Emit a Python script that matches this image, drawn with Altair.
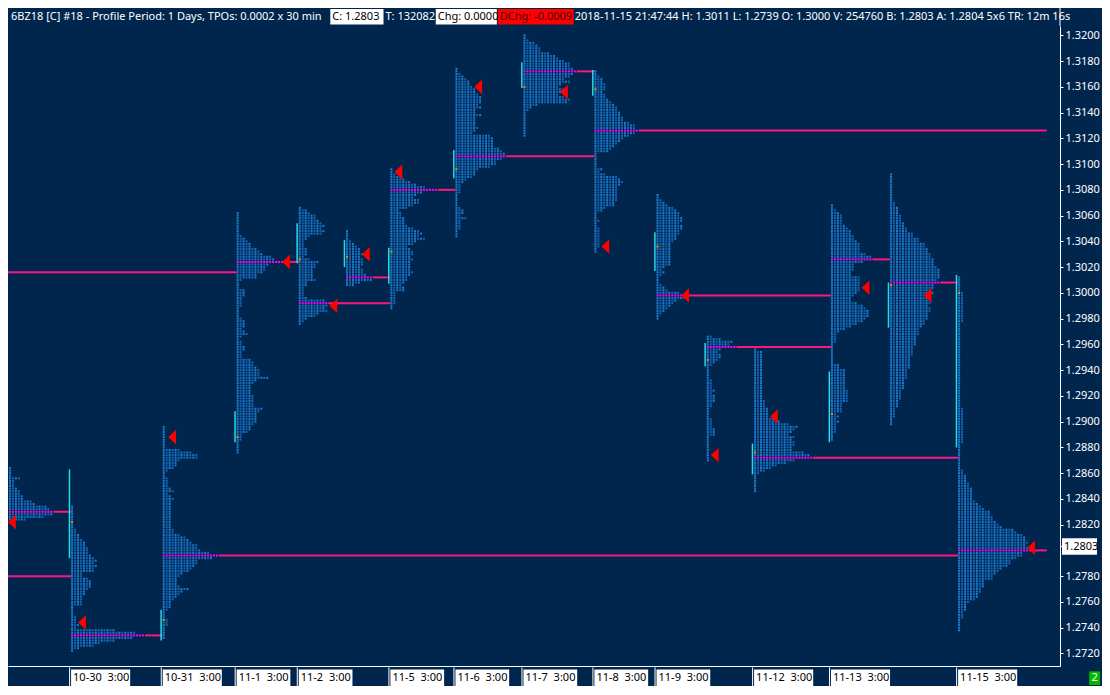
import altair as alt
import pandas as pd

FONT = "Noto Sans"
BG = "#00264d"
DARK_BLUE = "#1562b5"
LIGHT_BLUE = "#1b7ccb"
POC_DOT = "#ff00ff"
NAKED_POC = "#ff1480"
IB_CYAN = "#22dcec"
OPEN_ORANGE = "#ff8000"
CLOSE_RED = "#ff0000"
TICK = 0.0002

# ---------------- data ----------------
profile_dates = ["10-29", "10-30", "10-31", "11-1", "11-2", "11-4", "11-5", "11-6",
                 "11-7", "11-8", "11-9", "11-11", "11-12", "11-13", "11-14", "11-15"]
profile_cols = [0, 21, 52, 77, 98, 114, 129, 151, 174, 198, 219, 236, 252, 278, 298, 321]
profile_tops = [1.2864, 1.2834, 1.2896, 1.3062, 1.3066, 1.3048, 1.3096, 1.3174,
                1.3200, 1.3172, 1.3076, 1.2966, 1.2956, 1.3068, 1.3092, 1.3012]
profile_poc_rows = [17, 50, 50, 19, 37, 18, 8, 34, 14, 23, 39, 4, 42, 21, 42, 106]

tpo_1029 = [1, 1, 1, 1, 4, 2, 2, 2, 3, 4, 4, 5, 5, 8, 9, 13, 14, 15, 15, 12, 6]
tpo_1030 = [1, 1, 1, 1, 1, 1, 1, 1, 1, 2, 2, 3, 3, 4, 5, 5, 6, 6, 6, 7, 8, 9, 8, 9, 8, 8, 4, 4, 6, 7,
            7, 7, 6, 5, 5, 4, 4, 4, 4, 1, 1, 1, 1, 2, 2, 2, 3, 2, 15, 22, 25, 21, 15, 10, 8, 3, 1]
tpo_1031 = [1, 1, 1, 1, 1, 1, 1, 1, 1, 6, 10, 12,
            12, 6, 5, 5, 4, 2, 1, 1, 2, 2, 2, 2, 3, 4, 2, 3, 4, 3, 3, 3,
            3, 3, 3, 3, 3, 3, 3, 3, 4, 4, 6, 8, 9, 10, 12, 12, 13, 16, 19, 17,
            12, 12, 11, 10, 9, 7, 6, 5, 5, 5, 6, 9, 7, 6, 5, 4, 3, 3, 3, 2,
            1, 1, 1, 2, 2, 2, 1, 1, 1, 1, 1]
tpo_1101 = [1, 1, 1, 1, 1, 1, 1, 1, 1, 2, 3, 4, 5, 5, 7, 8, 9, 12, 13, 15,
            11, 10, 10, 9, 7, 7, 2, 1, 1, 1, 3, 3, 3, 2, 2, 2, 2, 1, 1, 1,
            1, 2, 3, 3, 3, 2, 3, 4, 2, 1, 2, 2, 3, 3, 2, 2, 2, 5, 6, 6,
            7, 8, 8, 8, 11, 7, 6, 5, 5, 5, 5, 6, 6, 6, 6, 6, 9, 8, 7, 7,
            7, 7, 6, 5, 5, 4, 2, 2, 2, 1, 1, 1, 1, 1]
tpo_1102 = [1, 3, 4, 6, 6, 7, 8, 9, 8, 9, 8, 4, 3, 2, 2, 2, 3, 3, 3, 2, 4, 7, 6, 6, 5, 5, 5, 5, 6, 3,
            3, 2, 2, 2, 2, 3, 9, 10, 10, 9, 10, 7, 6, 3, 2, 1]
tpo_1104 = [1, 1, 1, 1, 2, 3, 4, 5, 5, 6, 5, 6, 6, 6, 5, 6, 6, 7, 9, 9, 5, 3]
tpo_1105 = [1, 1, 2, 4, 5, 7, 9, 12, 16, 11, 9, 8, 10, 10, 8, 6, 3, 4, 4, 5, 5, 5, 6, 8, 10, 11, 10,
            12, 9, 8, 6, 7, 8, 8, 7, 8, 7, 7, 7, 7, 8, 7, 6, 6, 5, 4, 5, 5, 2, 2, 2, 2, 2, 1, 1]
tpo_1106 = [1, 1, 2, 3, 4, 5, 5, 6, 7, 7, 8, 9, 9, 9, 8, 9, 7, 7, 9, 7, 7, 7, 7, 8, 7, 6, 12, 13, 13,
            13, 13, 15, 16, 17, 17, 16, 14, 14, 12, 8, 7, 7, 6, 4, 3, 2, 2, 2, 2, 1, 1, 1, 1, 1, 2, 3,
            3, 2, 4, 2, 2, 2, 2, 1, 1, 1]
tpo_1107 = [1, 1, 2, 4, 5, 6, 6, 9, 11, 12, 14, 16, 16, 17, 18, 17, 16, 14, 16, 13, 12, 14, 13, 12,
            14, 16, 15, 5, 3, 2, 1, 1, 1, 1, 1, 1, 1, 1, 1, 1]
tpo_1108 = [1, 1, 2, 3, 3, 4, 4, 4, 3, 4, 4, 5, 6, 7, 8, 8, 9, 9, 10, 10, 12, 14, 14, 15, 14, 12, 10,
            9, 8, 7, 6, 5, 1, 1, 1, 1, 1, 1, 3, 2, 4, 8, 9, 10, 9, 8, 8, 8, 8, 8, 8, 7, 7, 4, 3, 1,
            1, 1, 2, 1, 1, 2, 2, 2, 2, 2, 2, 2, 2, 1, 1]
tpo_1109 = [1, 1, 2, 3, 4, 6, 7, 8, 8, 9, 9, 8, 9, 9, 8, 8, 7, 7, 6, 5, 5, 5, 5, 5, 5, 5, 5, 5, 3, 2,
            3, 2, 1, 1, 1, 2, 3, 4, 8, 9, 10, 7, 6, 5, 4, 3, 2, 1, 1]
tpo_1111 = [2, 5, 9, 8, 10, 5, 4, 5, 5, 4, 3, 2, 1, 1, 1, 1, 1, 2, 2, 2, 2, 3, 2, 3, 3, 3, 2, 2, 1, 1,
            1, 1, 2, 2, 2, 2, 3, 3, 3, 1, 1, 1, 1, 1, 1, 1, 1, 1, 1]
tpo_1112 = [1, 3, 3, 3, 3, 3, 3, 3, 3, 3, 3, 3, 3, 3, 3, 3, 3, 3, 3, 3, 4, 4, 4, 5, 5, 5, 5, 7, 9, 12,
            15, 14, 13, 12, 14, 13, 14, 14, 13, 13, 17, 19, 20, 14, 11, 8, 6, 4, 2, 1, 1, 1, 1, 1, 1, 1]
tpo_1113 = [1, 1, 2, 3, 4, 4, 4, 4, 5, 6, 7, 7, 8, 8, 9, 10, 10, 10, 10, 12, 14, 14,
            11, 8, 8, 8, 7, 7, 10, 10, 10, 10, 10, 10, 9, 8, 7, 7, 9, 11, 12, 13, 13, 13, 12, 11, 9,
            7, 5, 3, 2,
            2, 2, 2, 1, 1, 1, 1, 1, 1, 1, 1, 3, 3, 5, 5, 5, 5, 5, 5, 5, 5, 6, 6, 6, 6, 6, 4, 4, 4, 4,
            2, 3, 2, 3, 2, 2, 2, 2, 1, 1, 1]
tpo_1114 = [1, 1, 1, 1, 1, 1, 1, 1, 1, 1, 1, 2, 2, 3, 3, 3, 4, 4, 4, 5, 5, 6, 6, 8, 8, 10, 10, 12, 12,
            13, 13, 14, 14, 15, 15, 15, 16, 17, 17, 17, 17, 16, 17, 15, 15, 14, 15, 14, 14, 14, 14,
            13, 14, 14, 13, 13, 13, 12, 12, 11, 10, 10, 10, 9, 9, 9, 9, 8, 8, 8, 8, 7, 7, 7, 7, 7,
            6, 6, 6, 6, 5, 5, 5, 5, 4, 4, 4, 4, 3, 3, 3, 2, 2, 2, 2, 1, 1, 1]
tpo_1115 = [1, 1, 1, 1, 1, 1, 2, 2, 2, 2, 2, 2, 2, 2, 2, 2, 2, 2,
            1, 1, 1, 1, 1, 1, 1, 1, 1, 1, 1, 1, 1, 1, 1, 1, 1, 1, 1, 1, 1, 1, 1, 1, 1, 1, 1, 1, 1, 1,
            1, 1, 1, 2, 2, 2, 2, 2, 2, 2, 2, 2, 2, 2, 2, 2, 2, 1, 1, 1, 1, 1, 1, 1, 1, 1, 1,
            2, 2, 3, 3, 3, 4, 4, 5, 5, 5, 5, 5, 6, 7, 8, 9, 11, 11, 12, 12, 13, 14, 15, 19, 20, 22,
            23, 23, 24, 23, 24, 25, 22, 22, 20, 18, 18, 17, 15, 14, 13, 12, 12, 9, 9, 9, 8, 8, 7, 7,
            6, 4, 3, 3, 3, 2, 2, 2, 1, 1, 1, 1, 1]
profile_tpos = [tpo_1029, tpo_1030, tpo_1031, tpo_1101, tpo_1102, tpo_1104, tpo_1105, tpo_1106,
                tpo_1107, tpo_1108, tpo_1109, tpo_1111, tpo_1112, tpo_1113, tpo_1114, tpo_1115]

open_prices = [None, 1.2822, 1.2746, 1.2888, 1.3026, 1.3028, 1.3032, 1.3096,
               1.3160, 1.3158, 1.3036, 1.2948, 1.2876, 1.2906, 1.3006, 1.3000]
ib_high = [None, 1.2863, 1.2754, 1.2908, 1.3054, 1.3041, 1.3035, 1.3111,
           1.3179, 1.3173, 1.3047, 1.2961, 1.2883, 1.2939, 1.3008, 1.3014]
ib_low = [None, 1.2794, 1.2730, 1.2884, 1.3023, 1.3020, 1.3007, 1.3089,
          1.3159, 1.3153, 1.3017, 1.2943, 1.2859, 1.2884, 1.2973, 1.2880]
close_prices = [1.2822, 1.2744, 1.2888, 1.3024, 1.2990, 1.3030, 1.3094, 1.3160,
                1.3156, 1.3036, 1.2998, 1.2874, 1.2904, 1.3004, 1.2998, 1.2802]
close_cols = [1.0, 24.7, 55.2, 93.7, 109.7, 120.7, 131.7, 158.7,
              187.7, 201.7, 228.7, 238.7, 258.7, 289.7, 310.7, 345.7]
poc_end_cols = [21, 52, 321, 98, 129, 129, 151, 198, 198, 351, 278, 278, 321, 298, 321, 351]
older_poc_prices = [1.2780, 1.3016]
older_poc_end_cols = [21, 77]

label_dates = ["10-30", "10-31", "11-1", "11-2", "11-5", "11-6", "11-7", "11-8",
               "11-9", "11-12", "11-13", "11-15"]
label_time = "3:00"
y_tick_values = [1.2720, 1.2740, 1.2760, 1.2780, 1.2820, 1.2840, 1.2860, 1.2880,
                 1.2900, 1.2920, 1.2940, 1.2960, 1.2980, 1.3000, 1.3020, 1.3040,
                 1.3060, 1.3080, 1.3100, 1.3120, 1.3140, 1.3160, 1.3180, 1.3200]
last_price = 1.2803

header_title = "6BZ18 [C]  #18 - Profile Period: 1 Days, TPOs: 0.0002 x 30 min"
header_close = "C: 1.2803"
header_trades = "T: 132082"
header_chg = "Chg: 0.0000"
header_dchg = "DChg: -0.0009"
header_info = ("2018-11-15 21:47:44 H: 1.3011 L: 1.2739 O: 1.3000 V: 254760 "
               "B: 1.2803 A: 1.2804 5x6 TR: 12m 16s")

# ---------------- layout (fit the 1110x695 design into the page body) ----------------
TOTAL_W, TOTAL_H = 1094, 678          # page minus the 8px body margin
SX, SY = TOTAL_W / 1110, TOTAL_H / 695
PAD_TOP = 18
W = round(1067 * SX)                  # plot area width (axis line position)
H = round(675 * SY) - PAD_TOP         # plot area height (bottom line position)
PAD_RIGHT = TOTAL_W - W
PAD_BOTTOM = TOTAL_H - PAD_TOP - H


def rx(x):          # design x (px) -> chart x relative to plot left
    return x * SX


def ry(y):          # design y (px) -> chart y relative to plot top
    return y * SY - PAD_TOP


# price <-> design pixel: 1.3200 at y=28, 0.002 per 26.4 px
def price_at(y):
    return 1.3200 - (y - 28) / 13200


x_max_design = W / SX
y_top_design = PAD_TOP / SY
y_bot_design = (PAD_TOP + H) / SY
xs = alt.Scale(domain=[-1 / 3, (x_max_design - 1) / 3], nice=False, zero=False)
ys = alt.Scale(domain=[price_at(y_bot_design), price_at(y_top_design)], nice=False, zero=False)

# ---------------- tables ----------------
half = 0.00008
blocks = []
pocs = []
for k, counts in enumerate(profile_tpos):
    c0 = profile_cols[k]
    for r, n in enumerate(counts):
        p = round(profile_tops[k] - r * TICK, 4)
        for j in range(n):
            if r == profile_poc_rows[k]:
                col = POC_DOT
            else:
                col = LIGHT_BLUE if j % 2 == 0 else DARK_BLUE
            blocks.append({"x": c0 + j, "x2": c0 + j + 0.667, "y": p + half, "y2": p - half, "c": col})
    pp = round(profile_tops[k] - profile_poc_rows[k] * TICK, 4)
    pocs.append({"x": c0 + counts[profile_poc_rows[k]], "x2": poc_end_cols[k], "y": pp})
for p, e in zip(older_poc_prices, older_poc_end_cols):
    pocs.append({"x": -0.34, "x2": e, "y": p})
blocks_df = pd.DataFrame(blocks)
pocs_df = pd.DataFrame(pocs)

ib_df = pd.DataFrame([{"x": profile_cols[k] - 0.55, "y": ib_high[k], "y2": ib_low[k]}
                      for k in range(len(profile_cols)) if ib_high[k] is not None])
open_df = pd.DataFrame([{"x": profile_cols[k], "x2": profile_cols[k] + 0.667,
                         "y": open_prices[k] + half, "y2": open_prices[k] - half}
                        for k in range(len(profile_cols)) if open_prices[k] is not None])
close_df = pd.DataFrame({"x": close_cols, "y": close_prices})

lab = []
for d in label_dates:
    c = profile_cols[profile_dates.index(d)]
    t = d + "\u00a0\u00a0" + label_time
    lab.append({"x": c, "x2": c + 5.45 * len(t) / 3, "sep": c - 0.5, "t": t})
lab_df = pd.DataFrame(lab)

XAX = alt.Axis(labels=False, ticks=False, grid=False, domainColor="#ffffff",
               domainWidth=1, title=None)
YAX = alt.Axis(orient="right", values=y_tick_values, format=".4f", grid=False,
               labelColor="#ffffff", labelFont=FONT, labelFontSize=11,
               tickColor="#ffffff", tickSize=3, domainColor="#ffffff", domainWidth=1,
               labelPadding=2, labelOverlap=False, title=None)


def X(f):
    return alt.X(f, scale=xs, axis=XAX)


def Y(f):
    return alt.Y(f, scale=ys, axis=YAX)


base_blocks = alt.Chart(blocks_df).mark_rect(strokeWidth=0).encode(
    x=X("x:Q"), x2="x2:Q", y=Y("y:Q"), y2="y2:Q",
    color=alt.Color("c:N", scale=None),
)

poc_lines = alt.Chart(pocs_df).mark_rule(color=NAKED_POC, strokeWidth=2).encode(
    x=X("x:Q"), x2="x2:Q", y=Y("y:Q"))

ib_lines = alt.Chart(ib_df).mark_rule(color=IB_CYAN, strokeWidth=1.5).encode(
    x=X("x:Q"), y=Y("y:Q"), y2="y2:Q")

opens = alt.Chart(open_df).mark_rect(color=OPEN_ORANGE).encode(
    x=X("x:Q"), x2="x2:Q", y=Y("y:Q"), y2="y2:Q")

closes = alt.Chart(close_df).mark_point(
    shape="M0.53,-1L-0.53,0L0.53,1Z", filled=True, size=215, color=CLOSE_RED,
    opacity=1, strokeWidth=0).encode(x=X("x:Q"), y=Y("y:Q"))

seps = alt.Chart(lab_df).mark_rule(color="#ffffff", strokeWidth=1).encode(
    x=X("sep:Q"), y=alt.value(ry(676)), y2=alt.value(ry(695)))
lab_boxes = alt.Chart(lab_df).mark_rect(color="#ffffff").encode(
    x=X("x:Q"), x2="x2:Q", y=alt.value(ry(678)), y2=alt.value(ry(695)))
lab_text = alt.Chart(lab_df).mark_text(
    align="left", baseline="middle", dx=2, font=FONT, fontSize=11, color="#000000").encode(
    x=X("x:Q"), y=alt.value(ry(687)), text="t:N")

one = pd.DataFrame({"v": [0]})


def hbox(x1, x2, fill):
    return alt.Chart(one).mark_rect(color=fill).encode(
        x=alt.value(rx(x1)), x2=alt.value(rx(x2)), y=alt.value(ry(1)), y2=alt.value(ry(17)))


def htext(x, t, col):
    return alt.Chart(pd.DataFrame({"t": [t]})).mark_text(
        align="left", baseline="middle", font=FONT, fontSize=11, color=col).encode(
        x=alt.value(rx(x)), y=alt.value(ry(9)), text="t:N")


header = [
    htext(3, header_title, "#ffffff"),
    hbox(327, 381, "#ffffff"), htext(329, header_close, "#000000"),
    htext(383, header_trades, "#ffffff"),
    hbox(434, 496, "#ffffff"), htext(436, header_chg, "#000000"),
    hbox(497, 574, "#ff0000"), htext(499, header_dchg, "#4a0000"),
    htext(575, header_info, "#ffffff"),
]

header_rule = alt.Chart(one).mark_rule(color="#ffffff").encode(
    x=alt.value(W), y=alt.value(-PAD_TOP), y2=alt.value(0))

lp_df = pd.DataFrame({"y": [last_price + 0.00064], "y2": [last_price - 0.00064],
                      "p": [last_price], "t": [f"{last_price:.4f}"]})
lp_box = alt.Chart(lp_df).mark_rect(color="#ffffff").encode(
    x=alt.value(W + 2), x2=alt.value(W + 37), y=Y("y:Q"), y2="y2:Q")
lp_tick = alt.Chart(lp_df).mark_rule(color="#ffffff").encode(
    x=alt.value(W), x2=alt.value(W + 3), y=Y("p:Q"))
lp_text = alt.Chart(lp_df).mark_text(
    align="left", baseline="middle", font=FONT, fontSize=11, color="#000000").encode(
    x=alt.value(W + 4), y=Y("p:Q"), text="t:N")

badge = alt.Chart(one).mark_rect(color="#00b800").encode(
    x=alt.value(rx(1097)), x2=alt.value(rx(1108)), y=alt.value(ry(680)), y2=alt.value(ry(694)))
badge_text = alt.Chart(pd.DataFrame({"t": ["2"]})).mark_text(
    align="center", baseline="middle", font=FONT, fontSize=11, color="#ffffff").encode(
    x=alt.value(rx(1102.5)), y=alt.value(ry(687)), text="t:N")

chart = alt.layer(
    base_blocks, poc_lines, ib_lines, opens, closes,
    seps, lab_boxes, lab_text, *header, header_rule,
    lp_box, lp_tick, lp_text, badge, badge_text,
).properties(
    width=W, height=H,
    padding={"left": 0, "top": PAD_TOP, "right": PAD_RIGHT, "bottom": PAD_BOTTOM},
    autosize=alt.AutoSizeParams(type="none"),
    background=BG,
).configure_view(strokeWidth=0)

chart.save("out.html", embed_options={"renderer": "svg", "actions": False})
